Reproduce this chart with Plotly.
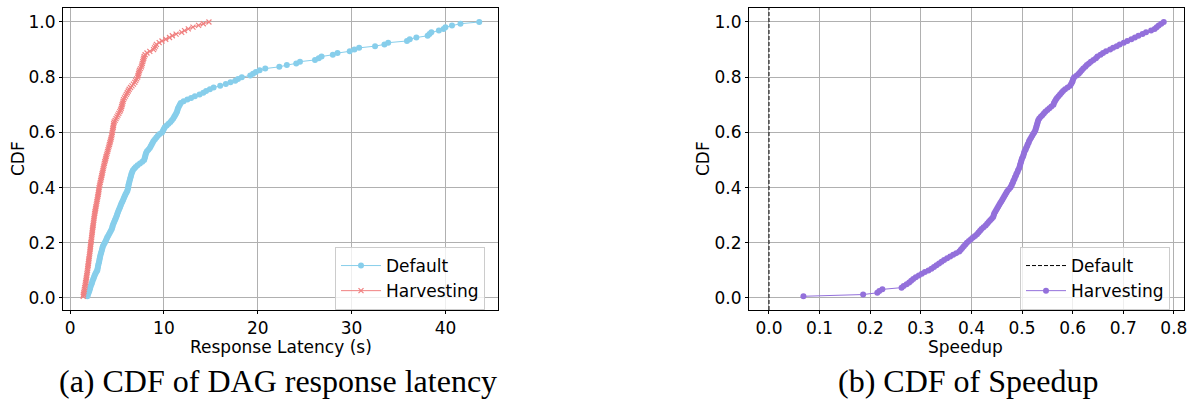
import plotly.graph_objects as go

# ---- data (sorted samples) ----
default_latency = [
    1.85, 1.9, 1.98, 2.05, 2.1, 2.15, 2.2, 2.28, 2.35, 2.4, 2.48, 2.55, 2.62, 2.7, 2.8, 2.9,
    2.93, 2.97, 3.0, 3.05, 3.1, 3.13, 3.17, 3.2, 3.25, 3.3, 3.35, 3.4, 3.45, 3.5, 3.6, 3.7,
    3.8, 3.88, 3.95, 4.05, 4.15, 4.25, 4.35, 4.45, 4.5, 4.55, 4.62, 4.7, 4.78, 4.85, 4.92, 5.0,
    5.05, 5.12, 5.2, 5.28, 5.35, 5.42, 5.5, 5.58, 5.66, 5.74, 5.82, 5.9, 6.0, 6.1, 6.15, 6.2,
    6.22, 6.25, 6.3, 6.35, 6.4, 6.45, 6.5, 6.55, 6.62, 6.7, 6.85, 7.0, 7.2, 7.45, 7.7, 7.9,
    7.95, 8.0, 8.05, 8.1, 8.2, 8.35, 8.5, 8.6, 8.7, 8.8, 8.9, 9.05, 9.2, 9.35, 9.55, 9.8,
    9.9, 10.0, 10.1, 10.3, 10.5, 10.7, 10.85, 11.0, 11.1, 11.2, 11.3, 11.4, 11.45, 11.5, 11.6, 11.7,
    11.8, 12.1, 12.5, 12.9, 13.3, 13.8, 14.2, 14.5, 14.9, 15.3, 16.0, 16.6, 17.1, 17.6, 17.9, 18.3,
    19.2, 19.5, 19.8, 20.2, 20.8, 22.3, 23.1, 24.1, 24.5, 26.1, 26.5, 26.8, 28.0, 28.5, 29.8, 30.3,
    30.8, 32.5, 33.5, 33.9, 35.9, 36.2, 36.9, 38.1, 38.3, 38.5, 39.3, 39.8, 40.0, 40.7, 41.6, 43.6,
]

harvest_latency = [
    1.4, 1.43, 1.46, 1.5, 1.53, 1.56, 1.6, 1.63, 1.66, 1.7, 1.72, 1.75, 1.78, 1.8, 1.83, 1.86,
    1.88, 1.9, 1.93, 1.95, 1.98, 2.0, 2.02, 2.05, 2.07, 2.1, 2.12, 2.14, 2.16, 2.18, 2.2, 2.22,
    2.25, 2.27, 2.3, 2.32, 2.34, 2.36, 2.38, 2.4, 2.43, 2.46, 2.48, 2.5, 2.53, 2.55, 2.58, 2.6,
    2.63, 2.66, 2.7, 2.73, 2.76, 2.8, 2.83, 2.86, 2.9, 2.93, 2.96, 3.0, 3.03, 3.06, 3.08, 3.1,
    3.14, 3.18, 3.22, 3.26, 3.3, 3.34, 3.38, 3.42, 3.46, 3.5, 3.54, 3.58, 3.62, 3.66, 3.7, 3.76,
    3.8, 3.85, 3.9, 3.95, 4.0, 4.05, 4.1, 4.15, 4.2, 4.25, 4.3, 4.35, 4.4, 4.44, 4.47, 4.5,
    4.53, 4.56, 4.6, 4.63, 4.65, 4.7, 4.8, 4.9, 5.0, 5.1, 5.2, 5.3, 5.38, 5.45, 5.5, 5.55,
    5.6, 5.65, 5.7, 5.8, 5.9, 6.0, 6.1, 6.2, 6.3, 6.45, 6.6, 6.75, 6.9, 7.0, 7.1, 7.2,
    7.25, 7.3, 7.35, 7.4, 7.5, 7.6, 7.65, 7.7, 7.75, 7.8, 7.85, 7.9, 8.0, 8.2, 8.5, 8.9,
    9.0, 9.1, 9.2, 9.5, 9.8, 10.2, 10.6, 10.9, 11.3, 11.9, 12.2, 12.6, 13.1, 13.7, 14.2, 14.8,
]

speedup = [
    0.068, 0.186, 0.214, 0.218, 0.224, 0.262, 0.266, 0.272, 0.277, 0.281, 0.285, 0.29, 0.296, 0.302, 0.308, 0.315,
    0.321, 0.326, 0.331, 0.336, 0.341, 0.346, 0.352, 0.358, 0.364, 0.37, 0.376, 0.379, 0.382, 0.385, 0.388, 0.391,
    0.395, 0.399, 0.403, 0.407, 0.411, 0.414, 0.417, 0.42, 0.424, 0.428, 0.431, 0.434, 0.437, 0.44, 0.443, 0.444,
    0.445, 0.447, 0.449, 0.451, 0.453, 0.455, 0.457, 0.459, 0.461, 0.463, 0.465, 0.467, 0.469, 0.471, 0.474, 0.477,
    0.479, 0.48, 0.482, 0.483, 0.485, 0.486, 0.488, 0.489, 0.491, 0.492, 0.494, 0.495, 0.496, 0.497, 0.498, 0.499,
    0.5, 0.502, 0.503, 0.504, 0.505, 0.507, 0.508, 0.51, 0.511, 0.513, 0.514, 0.516, 0.518, 0.52, 0.522, 0.524,
    0.526, 0.527, 0.528, 0.529, 0.53, 0.531, 0.532, 0.534, 0.537, 0.54, 0.543, 0.546, 0.55, 0.554, 0.558, 0.562,
    0.563, 0.565, 0.567, 0.569, 0.572, 0.575, 0.578, 0.581, 0.585, 0.59, 0.595, 0.597, 0.599, 0.6, 0.601, 0.603,
    0.608, 0.612, 0.615, 0.618, 0.621, 0.625, 0.628, 0.632, 0.636, 0.641, 0.646, 0.649, 0.655, 0.66, 0.666, 0.674,
    0.68, 0.687, 0.693, 0.701, 0.708, 0.716, 0.723, 0.73, 0.738, 0.745, 0.755, 0.762, 0.766, 0.77, 0.775, 0.78,
]

default_speedup = 0.0

left_xticks = [0, 10, 20, 30, 40]
right_xticks = [0.0, 0.1, 0.2, 0.3, 0.4, 0.5, 0.6, 0.7, 0.8]
yticks = [0.0, 0.2, 0.4, 0.6, 0.8, 1.0]

captions = ["(a) CDF of DAG response latency", "(b) CDF of Speedup"]
x_titles = ["Response Latency (s)", "Speedup"]
y_title = "CDF"


def cdf(values):
    n = len(values)
    return [(i + 1) / n for i in range(n)]


SKY = "#87CEEB"
CORAL = "#F08080"
PURPLE = "#9370DB"
FONT = "DejaVu Sans"
FS = 17
YR = [-0.0435, 1.0507]

fig = go.Figure()

fig.add_trace(go.Scatter(
    x=default_latency, y=cdf(default_latency), mode="lines+markers", name="Default",
    line=dict(color=SKY, width=1), marker=dict(color=SKY, size=6, symbol="circle"),
    xaxis="x", yaxis="y", legend="legend"))
fig.add_trace(go.Scatter(
    x=harvest_latency, y=cdf(harvest_latency), mode="lines+markers", name="Harvesting",
    line=dict(color=CORAL, width=1), marker=dict(color=CORAL, size=5, symbol="x-thin",
                                                  line=dict(color=CORAL, width=1.2)),
    xaxis="x", yaxis="y", legend="legend"))

fig.add_trace(go.Scatter(
    x=[default_speedup, default_speedup], y=YR, mode="lines", name="Default",
    line=dict(color="black", width=1, dash="4px,2px"),
    xaxis="x2", yaxis="y2", legend="legend2"))
fig.add_trace(go.Scatter(
    x=speedup, y=cdf(speedup), mode="lines+markers", name="Harvesting",
    line=dict(color=PURPLE, width=1), marker=dict(color=PURPLE, size=6, symbol="circle"),
    xaxis="x2", yaxis="y2", legend="legend2"))

W, H = 1194, 402
yd = [1 - 310 / H, 1 - 8 / H]

axis_common = dict(
    showline=True, linecolor="black", linewidth=1, mirror=True,
    ticks="outside", ticklen=3, tickcolor="black", tickwidth=1,
    showgrid=True, gridcolor="#b0b0b0", gridwidth=0.8, zeroline=False,
    tickfont=dict(family=FONT, size=FS, color="black"), automargin=False,
)


def ann(text, x, y, size, family, angle=0):
    return dict(text=text, x=x / W, y=1 - y / H, xref="paper", yref="paper",
                xanchor="center", yanchor="middle", showarrow=False, textangle=angle,
                font=dict(family=family, size=size, color="black"))


fig.update_layout(
    width=W, height=H, margin=dict(l=0, r=0, t=0, b=0, autoexpand=False),
    paper_bgcolor="white", plot_bgcolor="white",
    font=dict(family=FONT, size=FS, color="black"),
    xaxis=dict(domain=[63 / W, 498 / W], range=[-0.75, 45.6], tickvals=left_xticks,
               anchor="y", **axis_common),
    yaxis=dict(domain=yd, range=YR, tickvals=yticks, tickformat=".1f", anchor="x", **axis_common),
    xaxis2=dict(domain=[749 / W, 1184 / W], range=[-0.0395, 0.82], tickvals=right_xticks,
                tickformat=".1f", anchor="y2", **axis_common),
    yaxis2=dict(domain=yd, range=YR, tickvals=yticks, tickformat=".1f", anchor="x2", **axis_common),
    legend=dict(x=335 / W, y=1 - 247 / H, xanchor="left", yanchor="top",
                bgcolor="rgba(255,255,255,0.8)", bordercolor="#cccccc", borderwidth=1,
                font=dict(family=FONT, size=FS), itemwidth=40, tracegroupgap=0),
    legend2=dict(x=1020 / W, y=1 - 247 / H, xanchor="left", yanchor="top",
                 bgcolor="rgba(255,255,255,0.8)", bordercolor="#cccccc", borderwidth=1,
                 font=dict(family=FONT, size=FS), itemwidth=40, tracegroupgap=0),
    annotations=[
        ann(x_titles[0], 281, 347, FS, FONT),
        ann(x_titles[1], 966, 347, FS, FONT),
        ann(y_title, 18, 159, FS, FONT, -90),
        ann(y_title, 703, 159, FS, FONT, -90),
        ann(captions[0], 278, 381, 32, "Liberation Serif"),
        ann(captions[1], 968, 381, 32, "Liberation Serif"),
    ],
)

fig.write_html(
    "out.html",
    config={"displayModeBar": False},
    post_script="document.body.style.margin='0';document.body.style.overflow='hidden';",
)
